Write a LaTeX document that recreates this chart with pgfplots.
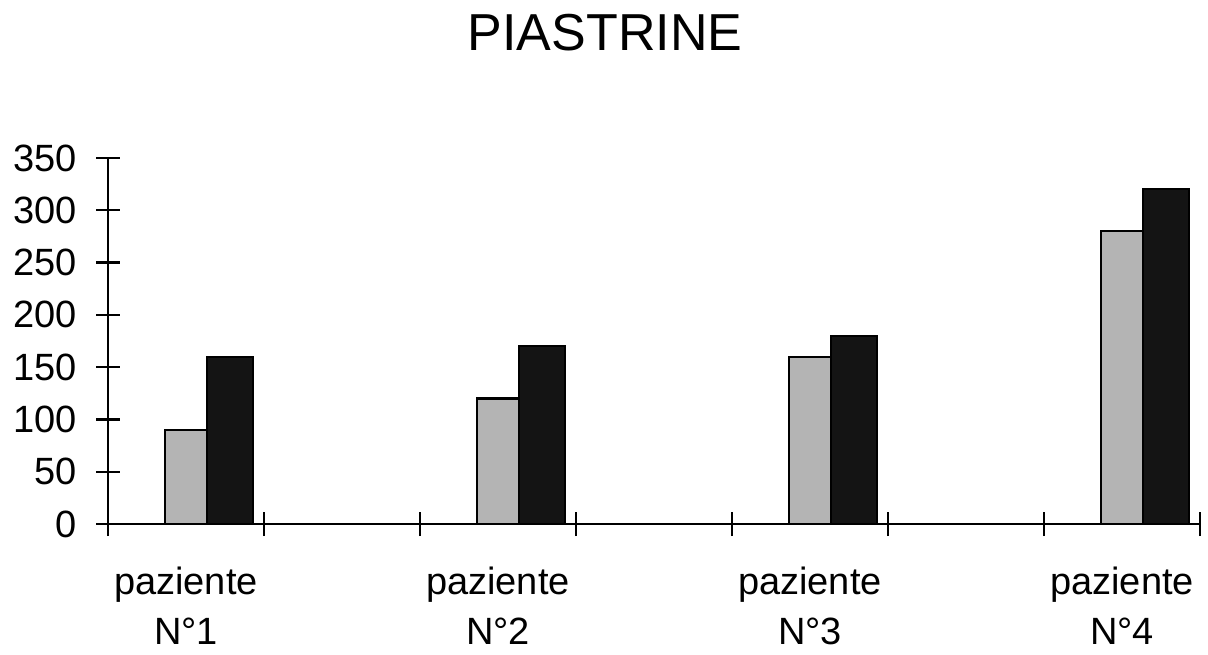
\documentclass[border=0pt]{standalone}
\usepackage{fontspec}
\setmainfont{Liberation Sans}
\usepackage{pgfplots}
\pgfplotsset{compat=1.18}
\definecolor{barA}{RGB}{180,180,180}
\definecolor{barB}{RGB}{20,20,20}
\begin{document}
\begin{tikzpicture}
\useasboundingbox (0,0) rectangle (604pt,327pt);
\begin{axis}[
  at={(54pt,65pt)}, anchor=south west, scale only axis,
  width=546pt, height=183pt,
  xmin=0, xmax=7, ymin=0, ymax=350,
  axis lines=left,
  axis line style={line width=1.2pt,-,black},
  xtick={0,1,...,7}, xticklabels={},
  ytick={0,50,...,350},
  tick align=center, major tick length=12pt,
  tick style={line width=1.2pt,black},
  /pgf/number format/assume math mode=true,
  ticklabel style={font=\fontsize{19}{24}\selectfont},
  yticklabel style={anchor=east, xshift=-6pt},
  extra x ticks={0.5,2.5,4.5,6.5},
  extra x tick labels={paziente\\N°1,paziente\\N°2,paziente\\N°3,paziente\\N°4},
  extra x tick style={major tick length=0pt,
    tick label style={align=center, anchor=north, yshift=-18pt, font=\fontsize{19}{25}\selectfont}},
  clip=false,
]
\addplot[ybar, bar width=0.27, bar shift=0pt, fill=barA, draw=black, line width=1.1pt]
  coordinates {(0.5,90) (2.5,120) (4.5,160) (6.5,280)};
\addplot[ybar, bar width=0.295, bar shift=0pt, fill=barB, draw=black, line width=1.1pt]
  coordinates {(0.7825,160) (2.7825,170) (4.7825,180) (6.7825,320)};
\end{axis}
\node[anchor=base, font=\fontsize{26}{30}\selectfont] at (302.5pt,301.5pt) {PIASTRINE};
\end{tikzpicture}
\end{document}
